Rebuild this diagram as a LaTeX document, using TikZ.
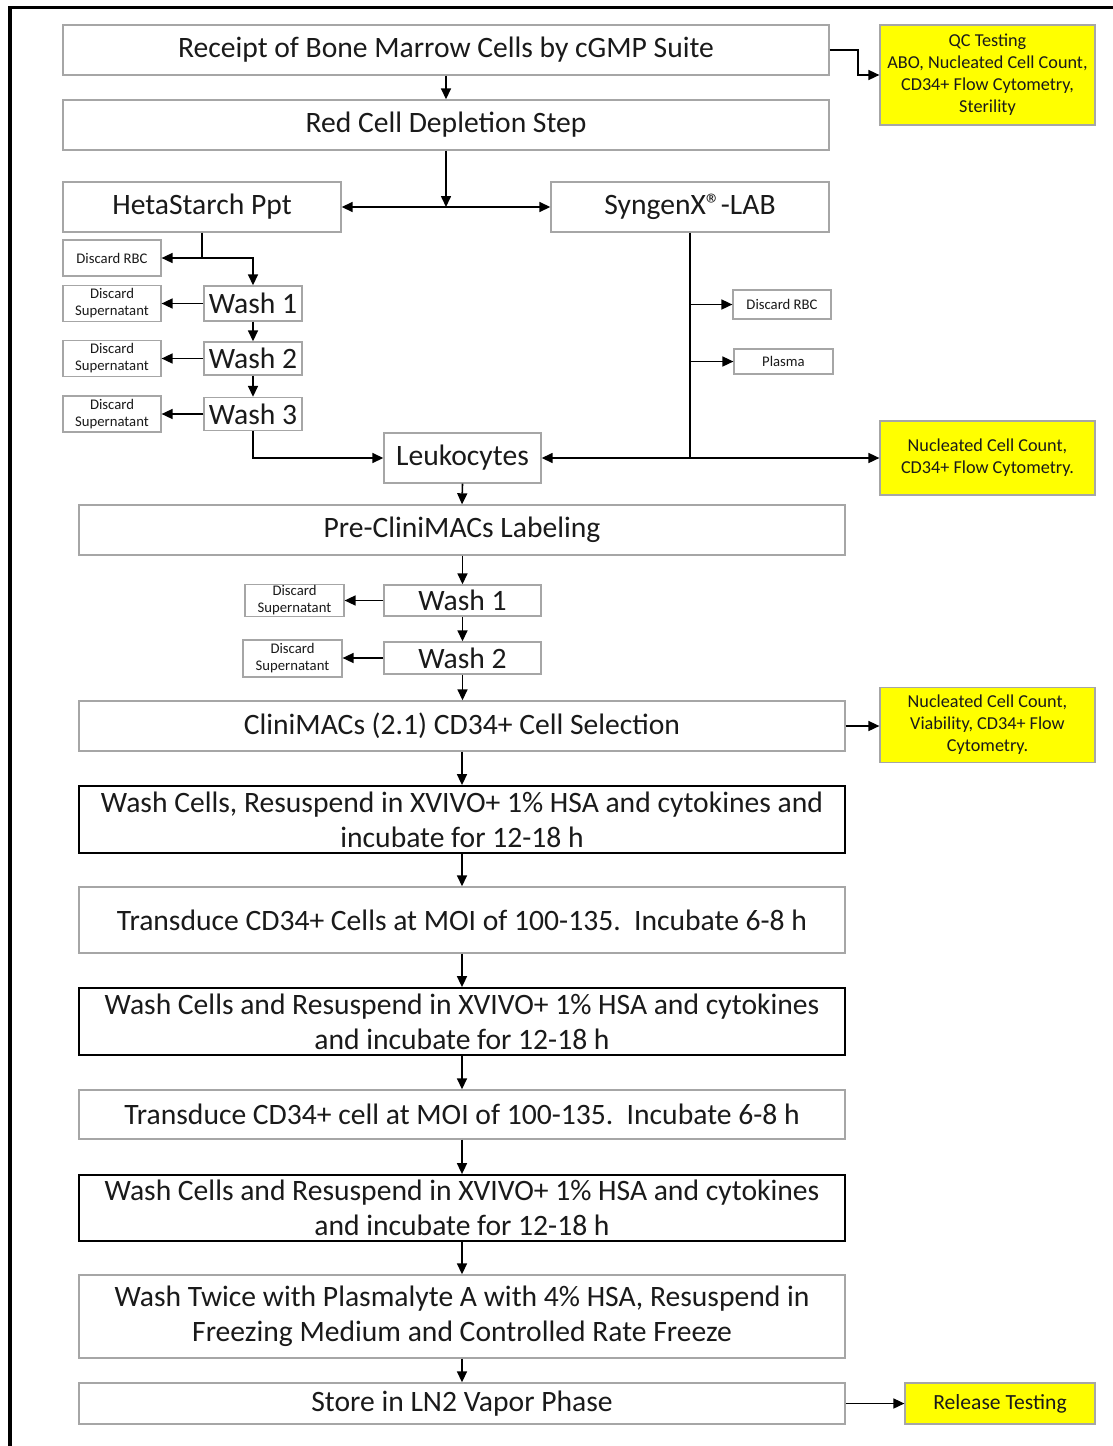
\documentclass[tikz,border=0pt]{standalone}
\usepackage{fontspec}
\setmainfont{Carlito}
\usetikzlibrary{arrows.meta}
\definecolor{bordergray}{HTML}{A6A6A6}
\definecolor{qcyellow}{HTML}{FFFF00}
\definecolor{txt}{HTML}{1A1A1A}
\newcommand\bigf{\fontsize{29.6}{35}\selectfont}
\newcommand\smallf{\fontsize{14.7}{17}\selectfont}
\newcommand\yelf{\fontsize{18.2}{22}\selectfont}
\begin{document}
\begin{tikzpicture}[x=1pt,y=-1pt,
  gbox/.style={draw=bordergray, line width=1.4pt, fill=white, inner sep=0pt, align=center, font=\bigf, text=txt},
  kbox/.style={draw=black, line width=1.8pt, fill=white, inner sep=0pt, align=center, font=\bigf, text=txt},
  sbox/.style={draw=bordergray, line width=1.2pt, fill=white, inner sep=0pt, align=center, font=\smallf, text=txt},
  ybox/.style={draw=bordergray, line width=1.2pt, fill=qcyellow, inner sep=0pt, align=center, font=\yelf, text=txt},
  arr/.style={draw=black, line width=1.6pt, -{Triangle[length=11pt,width=10pt]}},
  dbl/.style={draw=black, line width=1.6pt, {Triangle[length=11pt,width=10pt]}-{Triangle[length=11pt,width=10pt]}},
  ln/.style={draw=black, line width=1.6pt}]
\useasboundingbox (0,0) rectangle (1113,1446);
\fill[white] (0,0) rectangle (1113,1446);
\draw[line width=3.5pt] (10,1446) -- (10,7.5) -- (1113,7.5);

% top section
\node[gbox, minimum width=766pt, minimum height=50pt] (receipt) at (446,50) {Receipt of Bone Marrow Cells by cGMP Suite};
\node[gbox, minimum width=766pt, minimum height=50pt] (redcell) at (446,125) {Red Cell Depletion Step};
\node[ybox, minimum width=215pt, minimum height=100pt] (qc) at (987.5,75) {QC Testing\\ABO, Nucleated Cell Count,\\CD34+ Flow Cytometry,\\Sterility};
\node[gbox, minimum width=278pt, minimum height=50pt] (heta) at (202,207) {HetaStarch Ppt};
\node[gbox, minimum width=278pt, minimum height=50pt] (syngen) at (690,207) {SyngenX®-LAB};

% left wash column
\node[sbox, minimum width=98pt, minimum height=36pt] (drbc1) at (112,258) {Discard RBC};
\node[gbox, minimum width=98pt, minimum height=35pt] (w1) at (253,303.5) {Wash 1};
\node[gbox, minimum width=98pt, minimum height=33pt] (w2) at (253,358.5) {Wash 2};
\node[gbox, minimum width=98pt, minimum height=33pt] (w3) at (253,414) {Wash 3};
\node[sbox, minimum width=98pt, minimum height=36pt] (ds1) at (112,303.5) {Discard\\Supernatant};
\node[sbox, minimum width=98pt, minimum height=36pt] (ds2) at (112,358.5) {Discard\\Supernatant};
\node[sbox, minimum width=98pt, minimum height=36pt] (ds3) at (112,414) {Discard\\Supernatant};

% syngen branch
\node[sbox, minimum width=98pt, minimum height=29pt] (drbc2) at (782,304.5) {Discard RBC};
\node[sbox, minimum width=99pt, minimum height=25pt] (plasma) at (783.5,361.5) {Plasma};
\node[gbox, minimum width=157pt, minimum height=50pt] (leuk) at (462.5,458) {Leukocytes};
\node[ybox, minimum width=215pt, minimum height=74pt] (y2) at (987.5,458) {Nucleated Cell Count,\\CD34+ Flow Cytometry.};

% middle section
\node[gbox, minimum width=766pt, minimum height=50pt] (pre) at (462,530) {Pre-CliniMACs Labeling};
\node[gbox, minimum width=157pt, minimum height=31pt] (wb1) at (462.5,600.5) {Wash 1};
\node[gbox, minimum width=157pt, minimum height=32pt] (wb2) at (462.5,658) {Wash 2};
\node[sbox, minimum width=99pt, minimum height=32pt] (dsb1) at (294.5,600.5) {Discard\\Supernatant};
\node[sbox, minimum width=99pt, minimum height=37pt] (dsb2) at (292.5,658.5) {Discard\\Supernatant};
\node[gbox, minimum width=766pt, minimum height=50pt] (clini) at (462,726) {CliniMACs (2.1) CD34+ Cell Selection};
\node[ybox, minimum width=215pt, minimum height=75pt] (y3) at (987.5,725) {Nucleated Cell Count,\\Viability, CD34+ Flow\\Cytometry.};

% lower section
\node[kbox, minimum width=766pt, minimum height=67pt] (wc1) at (462,819.5) {Wash Cells, Resuspend in XVIVO+ 1\% HSA and cytokines and\\incubate for 12-18 h};
\node[gbox, minimum width=766pt, minimum height=66pt] (td1) at (462,920) {Transduce CD34+ Cells at MOI of 100-135.\ \ Incubate 6-8 h};
\node[kbox, minimum width=766pt, minimum height=67pt] (wc2) at (462,1021.5) {Wash Cells and Resuspend in XVIVO+ 1\% HSA and cytokines\\and incubate for 12-18 h};
\node[gbox, minimum width=766pt, minimum height=49pt] (td2) at (462,1114.5) {Transduce CD34+ cell at MOI of 100-135.\ \ Incubate 6-8 h};
\node[kbox, minimum width=766pt, minimum height=66pt] (wc3) at (462,1208) {Wash Cells and Resuspend in XVIVO+ 1\% HSA and cytokines\\and incubate for 12-18 h};
\node[gbox, minimum width=766pt, minimum height=83pt] (wt) at (462,1316.5) {Wash Twice with Plasmalyte A with 4\% HSA, Resuspend in\\Freezing Medium and Controlled Rate Freeze};
\node[gbox, minimum width=766pt, minimum height=41pt] (store) at (462,1403.5) {Store in LN2 Vapor Phase};
\node[ybox, minimum width=190pt, minimum height=41pt, font=\fontsize{21.6}{25}\selectfont] (rel) at (1000,1403.5) {Release Testing};

% connectors
\draw[arr] (receipt.east) -- ++(28,0) |- (qc.west);
\draw[arr] (receipt.south) -- (redcell.north);
\coordinate (split) at (446,207);
\draw[arr] (redcell.south) -- (split);
\draw[dbl] (heta.east) -- (syngen.west);
\coordinate (hj) at (202,258);
\draw[ln] (heta.south) -- (hj);
\draw[arr] (hj) -- (drbc1.east);
\draw[arr] (hj) -| (w1.north);
\draw[arr] (w1.west) -- (ds1.east);
\draw[arr] (w2.west) -- (ds2.east);
\draw[arr] (w3.west) -- (ds3.east);
\draw[arr] (w1.south) -- (w2.north);
\draw[arr] (w2.south) -- (w3.north);
\draw[arr] (w3.south) |- (leuk.west);
\coordinate (sj) at (690,458);
\draw[ln] (syngen.south) -- (sj);
\draw[arr] (syngen.south |- drbc2.west) -- (drbc2.west);
\draw[arr] (syngen.south |- plasma.west) -- (plasma.west);
\draw[arr] (sj) -- (leuk.east);
\draw[arr] (sj) -- (y2.west);
\draw[arr] (leuk.south) -- (pre.north);
\draw[arr] (pre.south -| wb1.north) -- (wb1.north);
\draw[arr] (wb1.west) -- (wb1.west -| dsb1.east);
\draw[arr] (wb1.south) -- (wb2.north);
\draw[arr] (wb2.west) -- (wb2.west -| dsb2.east);
\draw[arr] (wb2.south) -- (clini.north -| wb2.south);
\draw[arr] (clini.east) -- (clini.east -| y3.west);
\draw[arr] (clini.south) -- (wc1.north);
\draw[arr] (wc1.south) -- (td1.north);
\draw[arr] (td1.south) -- (wc2.north);
\draw[arr] (wc2.south) -- (td2.north);
\draw[arr] (td2.south) -- (wc3.north);
\draw[arr] (wc3.south) -- (wt.north);
\draw[arr] (wt.south) -- (store.north);
\draw[arr] (store.east) -- (rel.west);
\end{tikzpicture}
\end{document}
